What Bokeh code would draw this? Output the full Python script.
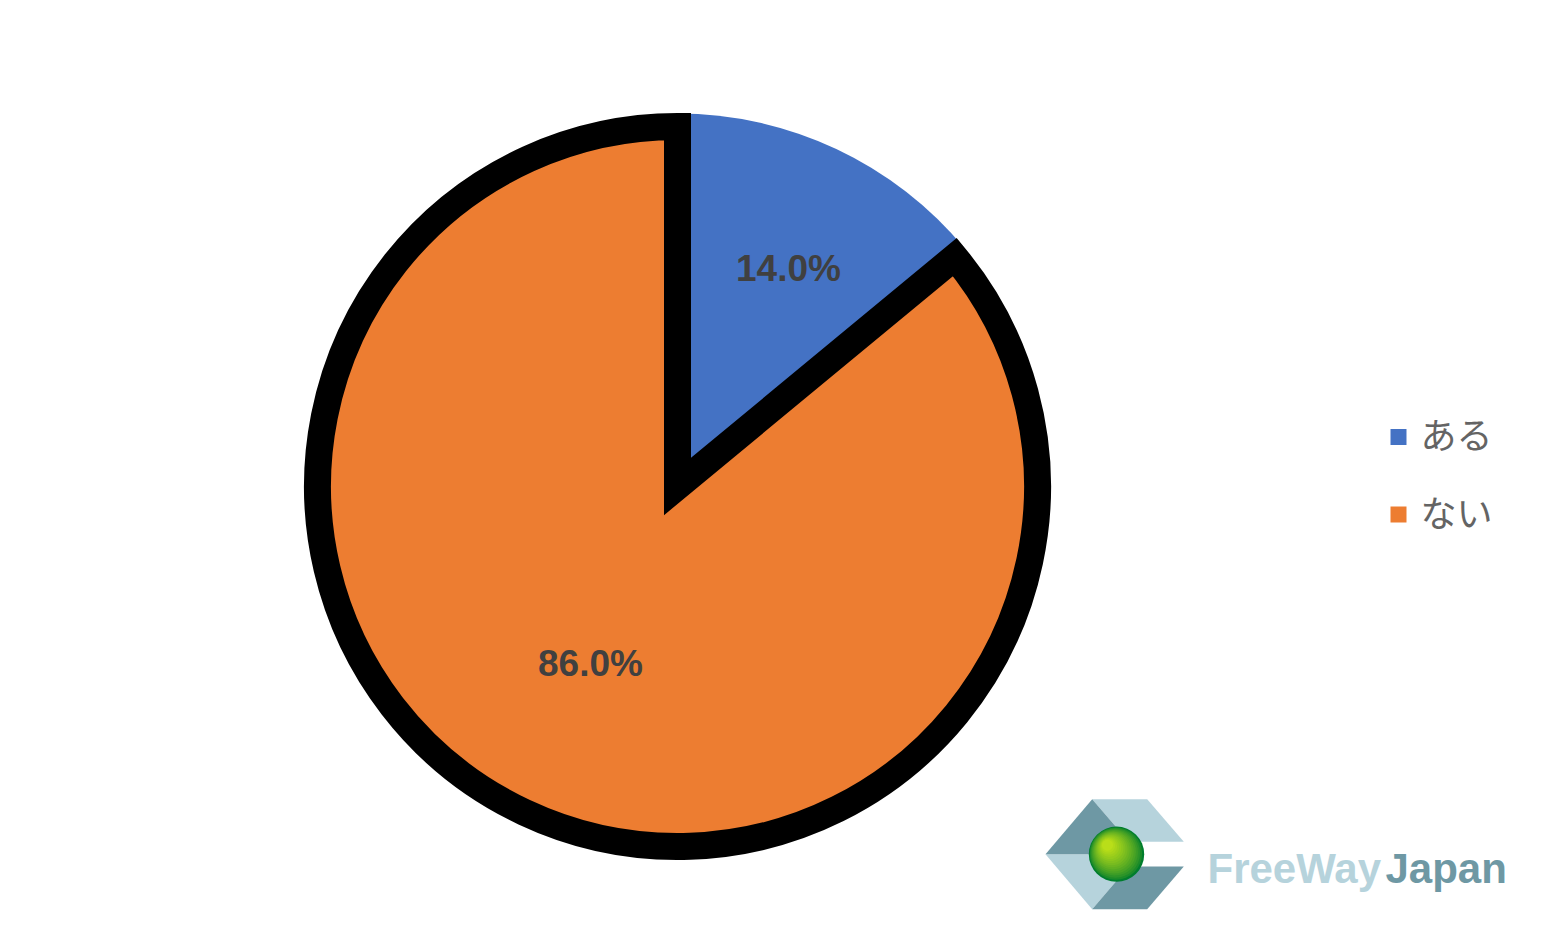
import math
from bokeh.plotting import figure
from bokeh.models import Range1d
from bokeh.core.properties import value
from bokeh.embed import file_html
from bokeh.resources import INLINE

# ---- data ----
categories = ["ある", "ない"]
values = [14.0, 86.0]
colors = ["#4472C4", "#ED7D31"]
label_texts = ["14.0%", "86.0%"]

# ---- layout (pixel-like coordinates; data y = 950 - screen y) ----
W, H = 1532, 934
p = figure(width=W, height=H, x_range=Range1d(0, W), y_range=Range1d(950 - H, 950),
           output_backend="svg", toolbar_location=None, x_axis_type=None, y_axis_type=None,
           min_border=0, outline_line_color=None, background_fill_color="white",
           border_fill_color="white")
p.xgrid.visible = False
p.ygrid.visible = False

cx, cy = 677, 950 - 486
R_outer = 373
R_ring = 360
LW = 27

total = sum(values)
# angles: start at 12 o'clock, clockwise
starts, ends = [], []
a = 90.0
for v in values:
    sweep = v / total * 360.0
    starts.append(math.radians(a - sweep))
    ends.append(math.radians(a))
    a -= sweep

# blue slice (no outline, full radius)
p.wedge(x=cx, y=cy, radius=R_outer, start_angle=starts[0], end_angle=ends[0],
        fill_color=colors[0], line_color=None)
# orange slice with thick black outline
p.wedge(x=cx, y=cy, radius=R_ring, start_angle=ends[0], end_angle=starts[0] + 2 * math.pi,
        fill_color=colors[1], line_color="black", line_width=LW, line_join="miter")

# data labels (anchor positions, screen px)
label_pos = [(788, 268), (590, 663)]
p.text(x=[q[0] for q in label_pos], y=[950 - q[1] for q in label_pos], text=label_texts,
       text_font=value("Liberation Sans"), text_font_style="bold", text_font_size="37px",
       text_color="#404040", text_align="center", text_baseline="middle")

# legend
leg_x = 1398
leg_y = [950 - 436.5, 950 - 514]
p.scatter(x=[leg_x] * 2, y=leg_y, marker="square", size=16, fill_color=colors, line_color=None)
p.text(x=[1420] * 2, y=[y + 4 for y in leg_y], text=categories,
       text_font=value("Noto Sans CJK JP"), text_font_size="36px", text_color="#646464",
       text_align="left", text_baseline="middle")

# ---- FreeWayJapan watermark logo ----
def P(pts):
    return [q[0] for q in pts], [950 - q[1] for q in pts]

L = (1045, 853.7); TL = (1091.7, 798.7); TR = (1146.7, 798.7); RT = (1183.3, 841.3)
RB = (1183.3, 866); BR = (1146.7, 908.7); BL = (1091.7, 908.7)
M1 = (1128.3, 841.3); M2 = (1128.3, 866); MC = (1098, 853.7)
dark, light = "#6E98A4", "#B6D3DC"
pieces = [
    ([TL, TR, RT, M1], light),
    ([L, MC, M2, BL], light),
    ([L, TL, M1, MC], dark),
    ([BL, M2, RB, BR], dark),
]
xs, ys, fc = [], [], []
for pts, c in pieces:
    px_, py_ = P(pts)
    xs.append(px_); ys.append(py_); fc.append(c)
p.patches(xs=xs, ys=ys, fill_color=fc, line_color=None)

# sphere with fake radial gradient
sx, sy, sr = 1116, 950 - 853.7, 27.7
n = 16
c0 = (0, 125, 45); c1 = (185, 222, 25)
for i in range(n):
    t = i / (n - 1)
    r = sr * (1 - 0.8 * t)
    ox = -9 * t
    oy = 9 * t
    tt = t ** 0.7
    col = "#%02x%02x%02x" % tuple(int(c0[k] + (c1[k] - c0[k]) * tt) for k in range(3))
    p.circle(x=sx + ox, y=sy + oy, radius=r, fill_color=col, line_color=None)

p.text(x=[1207], y=[950 - 868], text=["FreeWay"], text_font=value("Liberation Sans"),
       text_font_style="bold", text_font_size="42px", text_color=light,
       text_align="left", text_baseline="alphabetic")
p.text(x=[1385], y=[950 - 868], text=["Japan"], text_font=value("Liberation Sans"),
       text_font_style="bold", text_font_size="42px", text_color=dark,
       text_align="left", text_baseline="alphabetic")

open("out.html", "w").write(file_html(p, INLINE))
